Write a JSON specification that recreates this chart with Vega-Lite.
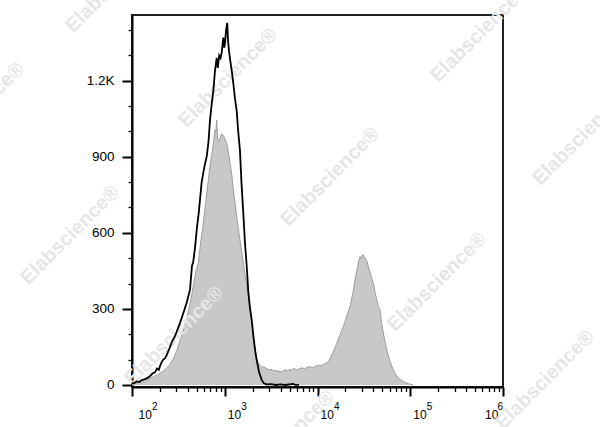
{
  "$schema": "https://vega.github.io/schema/vega-lite/v6.json",
  "width": 371,
  "height": 372,
  "autosize": {"type": "none"},
  "padding": {"left": 132, "top": 15, "right": 97, "bottom": 40},
  "background": "white",
  "config": {"view": {"stroke": "#222222", "strokeWidth": 2}, "font": "Liberation Sans"},
  "resolve": {"axis": {"x": "independent"}},
  "datasets": {
    "sample": [
      {"log_fl": 2.0, "count": 3}, {"log_fl": 2.03, "count": 6}, {"log_fl": 2.06, "count": 8}, {"log_fl": 2.1, "count": 12},
      {"log_fl": 2.13, "count": 15}, {"log_fl": 2.158, "count": 20}, {"log_fl": 2.19, "count": 26}, {"log_fl": 2.22, "count": 30},
      {"log_fl": 2.248, "count": 36}, {"log_fl": 2.275, "count": 40}, {"log_fl": 2.302, "count": 46}, {"log_fl": 2.337, "count": 55},
      {"log_fl": 2.374, "count": 66}, {"log_fl": 2.41, "count": 82}, {"log_fl": 2.445, "count": 102}, {"log_fl": 2.482, "count": 135},
      {"log_fl": 2.518, "count": 175}, {"log_fl": 2.553, "count": 215}, {"log_fl": 2.59, "count": 262}, {"log_fl": 2.625, "count": 318},
      {"log_fl": 2.661, "count": 390}, {"log_fl": 2.69, "count": 450}, {"log_fl": 2.715, "count": 480}, {"log_fl": 2.74, "count": 560},
      {"log_fl": 2.769, "count": 638}, {"log_fl": 2.795, "count": 720}, {"log_fl": 2.823, "count": 809}, {"log_fl": 2.84, "count": 860},
      {"log_fl": 2.859, "count": 905}, {"log_fl": 2.877, "count": 950}, {"log_fl": 2.895, "count": 1006}, {"log_fl": 2.905, "count": 1000},
      {"log_fl": 2.913, "count": 1045}, {"log_fl": 2.922, "count": 970}, {"log_fl": 2.935, "count": 960}, {"log_fl": 2.949, "count": 975},
      {"log_fl": 2.967, "count": 990}, {"log_fl": 2.984, "count": 985}, {"log_fl": 3.003, "count": 970}, {"log_fl": 3.021, "count": 955},
      {"log_fl": 3.04, "count": 915}, {"log_fl": 3.057, "count": 875}, {"log_fl": 3.075, "count": 830}, {"log_fl": 3.092, "count": 770},
      {"log_fl": 3.11, "count": 720}, {"log_fl": 3.129, "count": 664}, {"log_fl": 3.145, "count": 620}, {"log_fl": 3.164, "count": 572},
      {"log_fl": 3.18, "count": 530}, {"log_fl": 3.2, "count": 481}, {"log_fl": 3.22, "count": 430}, {"log_fl": 3.235, "count": 400},
      {"log_fl": 3.254, "count": 355}, {"log_fl": 3.27, "count": 300}, {"log_fl": 3.291, "count": 245}, {"log_fl": 3.31, "count": 180},
      {"log_fl": 3.33, "count": 135}, {"log_fl": 3.344, "count": 105}, {"log_fl": 3.36, "count": 88}, {"log_fl": 3.38, "count": 78},
      {"log_fl": 3.4, "count": 70}, {"log_fl": 3.42, "count": 72}, {"log_fl": 3.45, "count": 65}, {"log_fl": 3.48, "count": 60},
      {"log_fl": 3.5, "count": 62}, {"log_fl": 3.53, "count": 55}, {"log_fl": 3.56, "count": 57}, {"log_fl": 3.596, "count": 52},
      {"log_fl": 3.63, "count": 55}, {"log_fl": 3.65, "count": 60}, {"log_fl": 3.68, "count": 56}, {"log_fl": 3.7, "count": 62},
      {"log_fl": 3.72, "count": 58}, {"log_fl": 3.74, "count": 66}, {"log_fl": 3.77, "count": 60}, {"log_fl": 3.8, "count": 63},
      {"log_fl": 3.83, "count": 68}, {"log_fl": 3.86, "count": 64}, {"log_fl": 3.89, "count": 70}, {"log_fl": 3.92, "count": 72},
      {"log_fl": 3.95, "count": 68}, {"log_fl": 3.98, "count": 74}, {"log_fl": 4.01, "count": 78}, {"log_fl": 4.04, "count": 76},
      {"log_fl": 4.07, "count": 82}, {"log_fl": 4.1, "count": 86}, {"log_fl": 4.13, "count": 100}, {"log_fl": 4.153, "count": 118},
      {"log_fl": 4.18, "count": 140}, {"log_fl": 4.207, "count": 164}, {"log_fl": 4.24, "count": 195}, {"log_fl": 4.278, "count": 230},
      {"log_fl": 4.31, "count": 265}, {"log_fl": 4.35, "count": 309}, {"log_fl": 4.38, "count": 360}, {"log_fl": 4.404, "count": 414},
      {"log_fl": 4.43, "count": 462}, {"log_fl": 4.445, "count": 490}, {"log_fl": 4.458, "count": 506}, {"log_fl": 4.47, "count": 498},
      {"log_fl": 4.487, "count": 515}, {"log_fl": 4.5, "count": 508}, {"log_fl": 4.515, "count": 500}, {"log_fl": 4.53, "count": 490},
      {"log_fl": 4.56, "count": 452}, {"log_fl": 4.58, "count": 428}, {"log_fl": 4.602, "count": 401}, {"log_fl": 4.63, "count": 350},
      {"log_fl": 4.656, "count": 309}, {"log_fl": 4.672, "count": 300}, {"log_fl": 4.692, "count": 243}, {"log_fl": 4.72, "count": 185},
      {"log_fl": 4.746, "count": 138}, {"log_fl": 4.78, "count": 95}, {"log_fl": 4.817, "count": 59}, {"log_fl": 4.85, "count": 38},
      {"log_fl": 4.88, "count": 25}, {"log_fl": 4.925, "count": 13}, {"log_fl": 4.98, "count": 5}, {"log_fl": 5.033, "count": 0}
    ],
    "control": [
      {"log_fl": 2.0, "count": 8}, {"log_fl": 2.02, "count": 6}, {"log_fl": 2.05, "count": 14}, {"log_fl": 2.08, "count": 12},
      {"log_fl": 2.1, "count": 18}, {"log_fl": 2.13, "count": 22}, {"log_fl": 2.158, "count": 26}, {"log_fl": 2.19, "count": 33},
      {"log_fl": 2.22, "count": 45}, {"log_fl": 2.248, "count": 50}, {"log_fl": 2.27, "count": 65}, {"log_fl": 2.29, "count": 60},
      {"log_fl": 2.302, "count": 75}, {"log_fl": 2.32, "count": 90}, {"log_fl": 2.337, "count": 100}, {"log_fl": 2.355, "count": 105},
      {"log_fl": 2.374, "count": 118}, {"log_fl": 2.4, "count": 140}, {"log_fl": 2.43, "count": 170}, {"log_fl": 2.46, "count": 190},
      {"log_fl": 2.482, "count": 210}, {"log_fl": 2.518, "count": 245}, {"log_fl": 2.553, "count": 283}, {"log_fl": 2.59, "count": 325},
      {"log_fl": 2.625, "count": 375}, {"log_fl": 2.647, "count": 470}, {"log_fl": 2.66, "count": 485}, {"log_fl": 2.679, "count": 540},
      {"log_fl": 2.7, "count": 620}, {"log_fl": 2.72, "count": 680}, {"log_fl": 2.751, "count": 800}, {"log_fl": 2.78, "count": 860},
      {"log_fl": 2.805, "count": 900}, {"log_fl": 2.825, "count": 960}, {"log_fl": 2.841, "count": 1045}, {"log_fl": 2.86, "count": 1110},
      {"log_fl": 2.877, "count": 1160}, {"log_fl": 2.895, "count": 1240}, {"log_fl": 2.913, "count": 1290}, {"log_fl": 2.925, "count": 1250},
      {"log_fl": 2.94, "count": 1300}, {"log_fl": 2.955, "count": 1290}, {"log_fl": 2.967, "count": 1310}, {"log_fl": 2.984, "count": 1370},
      {"log_fl": 2.995, "count": 1330}, {"log_fl": 3.003, "count": 1350}, {"log_fl": 3.015, "count": 1400}, {"log_fl": 3.027, "count": 1428},
      {"log_fl": 3.035, "count": 1360}, {"log_fl": 3.045, "count": 1320}, {"log_fl": 3.057, "count": 1285}, {"log_fl": 3.075, "count": 1240},
      {"log_fl": 3.092, "count": 1190}, {"log_fl": 3.11, "count": 1130}, {"log_fl": 3.129, "count": 1080}, {"log_fl": 3.145, "count": 1000},
      {"log_fl": 3.164, "count": 925}, {"log_fl": 3.18, "count": 800}, {"log_fl": 3.2, "count": 677}, {"log_fl": 3.218, "count": 560},
      {"log_fl": 3.237, "count": 467}, {"log_fl": 3.254, "count": 368}, {"log_fl": 3.27, "count": 310}, {"log_fl": 3.291, "count": 256},
      {"log_fl": 3.31, "count": 190}, {"log_fl": 3.33, "count": 130}, {"log_fl": 3.344, "count": 99}, {"log_fl": 3.37, "count": 50},
      {"log_fl": 3.398, "count": 20}, {"log_fl": 3.42, "count": 8}, {"log_fl": 3.452, "count": 2}, {"log_fl": 3.5, "count": 3},
      {"log_fl": 3.55, "count": 0}, {"log_fl": 3.6, "count": 2}, {"log_fl": 3.65, "count": 0}, {"log_fl": 3.74, "count": 4},
      {"log_fl": 3.76, "count": 0}, {"log_fl": 3.8, "count": 0}
    ],
    "watermarks": [
      {"log_fl": 1.817, "count": 1585, "label": "Elabscience®"},
      {"log_fl": 0.307, "count": 1077, "label": "Elabscience®"},
      {"log_fl": 1.332, "count": 591, "label": "Elabscience®"},
      {"log_fl": 3.035, "count": 1211, "label": "Elabscience®"},
      {"log_fl": 5.752, "count": 1388, "label": "Elabscience®"},
      {"log_fl": 6.852, "count": 982, "label": "Elabscience®"},
      {"log_fl": 4.135, "count": 820, "label": "Elabscience®"},
      {"log_fl": 5.288, "count": 406, "label": "Elabscience®"},
      {"log_fl": 6.453, "count": 20, "label": "Elabscience®"},
      {"log_fl": 2.453, "count": 193, "label": "Elabscience®"},
      {"log_fl": 3.65, "count": -217, "label": "Elabscience®"}
    ]
  },
  "encoding": {
    "y": {
      "field": "count",
      "type": "quantitative",
      "scale": {"domain": [-8, 1459], "nice": false, "zero": false},
      "axis": {
        "title": null,
        "grid": false,
        "values": [0, 100, 200, 300, 400, 500, 600, 700, 800, 900, 1000, 1100, 1200, 1300, 1400],
        "labelExpr": "datum.value == 0 ? '0' : datum.value == 300 ? '300' : datum.value == 600 ? '600' : datum.value == 900 ? '900' : datum.value == 1200 ? '1.2K' : ''",
        "domainColor": "black",
        "domainWidth": 2,
        "tickColor": "black",
        "tickSize": {"condition": {"test": "datum.value % 300 == 0", "value": 10}, "value": 4},
        "tickWidth": {"condition": {"test": "datum.value % 300 == 0", "value": 2}, "value": 1.3},
        "labelFontSize": 13.5,
        "labelColor": "black",
        "labelPadding": 8,
        "labelOverlap": false,
        "labelBound": false
      }
    }
  },
  "layer": [
    {
      "data": {"name": "sample"},
      "mark": {"type": "area", "color": "#c8c8c8", "opacity": 1, "line": {"color": "#9c9c9c", "strokeWidth": 1}},
      "encoding": {
        "x": {
          "field": "log_fl",
          "type": "quantitative",
          "scale": {"domain": [2, 6], "nice": false, "zero": false},
          "axis": {
            "orient": "bottom",
            "title": null,
            "grid": false,
            "values": [2, 2.30103, 2.47712, 2.60206, 2.69897, 2.77815, 2.8451, 2.90309, 2.95424,
                       3, 3.30103, 3.47712, 3.60206, 3.69897, 3.77815, 3.8451, 3.90309, 3.95424,
                       4, 4.30103, 4.47712, 4.60206, 4.69897, 4.77815, 4.8451, 4.90309, 4.95424,
                       5, 5.30103, 5.47712, 5.60206, 5.69897, 5.77815, 5.8451, 5.90309, 5.95424, 6],
            "labelExpr": "datum.value == round(datum.value) ? '10' : ''",
            "domainColor": "black",
            "domainWidth": 2,
            "tickColor": "black",
            "tickSize": {"condition": {"test": "datum.value == round(datum.value)", "value": 9}, "value": 4.5},
            "tickWidth": {"condition": {"test": "datum.value == round(datum.value)", "value": 2}, "value": 1.3},
            "labelAlign": "left",
            "labelOffset": {"condition": [{"test": "datum.value == 2", "value": 6}, {"test": "datum.value == 6", "value": -18.5}], "value": 2.5},
            "labelFontSize": 12,
            "labelColor": "black",
            "labelBaseline": "top",
            "labelPadding": 13,
            "labelFlush": false,
            "labelOverlap": false,
            "labelBound": false
          }
        }
      }
    },
    {
      "data": {"name": "watermarks"},
      "mark": {"type": "text", "angle": -45, "fontSize": 20, "fontWeight": "bold", "color": "#e6e6e6", "align": "center", "baseline": "middle", "clip": false},
      "encoding": {
        "x": {"field": "log_fl", "type": "quantitative", "scale": {"domain": [2, 6], "nice": false, "zero": false}, "axis": null},
        "text": {"field": "label", "type": "nominal"}
      }
    },
    {
      "data": {"name": "control"},
      "mark": {"type": "line", "color": "black", "strokeWidth": 1.8},
      "encoding": {
        "x": {
          "field": "log_fl",
          "type": "quantitative",
          "scale": {"domain": [2, 6], "nice": false, "zero": false},
          "axis": {
            "orient": "bottom",
            "title": null,
            "grid": false,
            "domain": false,
            "ticks": false,
            "tickSize": 0,
            "values": [2, 3, 4, 5, 6],
            "labelExpr": "toString(datum.value)",
            "labelAlign": "left",
            "labelOffset": {"condition": [{"test": "datum.value == 2", "value": 19.5}, {"test": "datum.value == 6", "value": -6}], "value": 16},
            "labelFontSize": 10,
            "labelColor": "black",
            "labelBaseline": "top",
            "labelPadding": 14,
            "labelFlush": false,
            "labelOverlap": false,
            "labelBound": false
          }
        }
      }
    }
  ]
}
